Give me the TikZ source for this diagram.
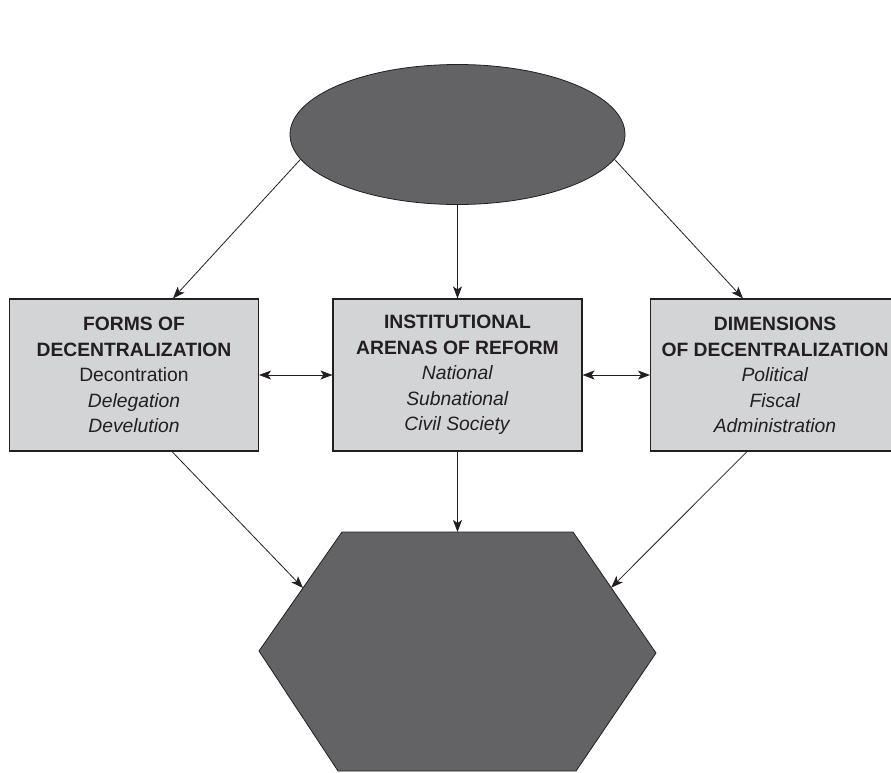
\documentclass[tikz,border=0pt]{standalone}
\usepackage{fontspec}
\setmainfont{Liberation Sans}
\usetikzlibrary{shapes.geometric,arrows.meta,calc}
\definecolor{boxfill}{HTML}{D3D4D6}
\definecolor{darkfill}{HTML}{636365}
\definecolor{ink}{HTML}{231F20}
\tikzset{
  infobox/.style={draw=ink, line width=1.1pt, fill=boxfill, minimum width=249pt, minimum height=152pt,
    align=center, text=ink, inner sep=0pt, font=\fontsize{19.3}{25.5}\selectfont},
  link/.style={draw=ink, line width=0.8pt, -{Stealth[length=12pt,width=9pt,inset=3pt]}},
  dlink/.style={draw=ink, line width=0.8pt, {Stealth[length=12pt,width=9pt,inset=3pt]}-{Stealth[length=12pt,width=9pt,inset=3pt]}},
  darkshape/.style={draw=ink, line width=0.8pt, fill=darkfill}
}
\begin{document}
\begin{tikzpicture}[x=1pt,y=-1pt]
\clip (0,0) rectangle (891,772);
\fill[white] (0,0) rectangle (891,772);
% ellipse
\node[darkshape, ellipse, minimum width=335pt, minimum height=140pt, inner sep=0pt] (ell) at (457.5,134.5) {};
% boxes
\node[infobox] (lb) at (134,375) {\textbf{FORMS OF}\\\textbf{DECENTRALIZATION}\\Decontration\\\textit{Delegation}\\\textit{Develution}};
\node[infobox] (mb) at (457.5,375) {\textbf{INSTITUTIONAL}\\\textbf{ARENAS OF REFORM}\\\textit{National}\\\textit{Subnational}\\\textit{Civil Society}};
\node[infobox] (rb) at (775,375) {\textbf{DIMENSIONS}\\\textbf{OF DECENTRALIZATION}\\\textit{Political}\\\textit{Fiscal}\\\textit{Administration}};
% hexagon
\coordinate (h1) at (342,532);
\coordinate (h2) at (573,532);
\coordinate (h3) at (656,653);
\coordinate (h4) at (576,771);
\coordinate (h5) at (338,771);
\coordinate (h6) at (259,651);
\draw[darkshape] (h1) -- (h2) -- (h3) -- (h4) -- (h5) -- (h6) -- cycle;
\coordinate (hl) at ($(h1)!0.47!(h6)$);
\coordinate (hr) at ($(h2)!0.46!(h3)$);
\coordinate (ht) at ($(h1)!0.5!(h2)$);
% connectors
\draw[link] (ell.189) -- ([xshift=39pt]lb.north);
\draw[link] (ell.south) -- (mb.north);
\draw[link] (ell.351) -- ([xshift=-32pt]rb.north);
\draw[dlink] (lb.east) -- (mb.west);
\draw[dlink] (mb.east) -- (rb.west);
\draw[link] ([xshift=38pt]lb.south) -- (hl);
\draw[link] (mb.south) -- (ht);
\draw[link] ([xshift=-28pt]rb.south) -- (hr);
\end{tikzpicture}
\end{document}
